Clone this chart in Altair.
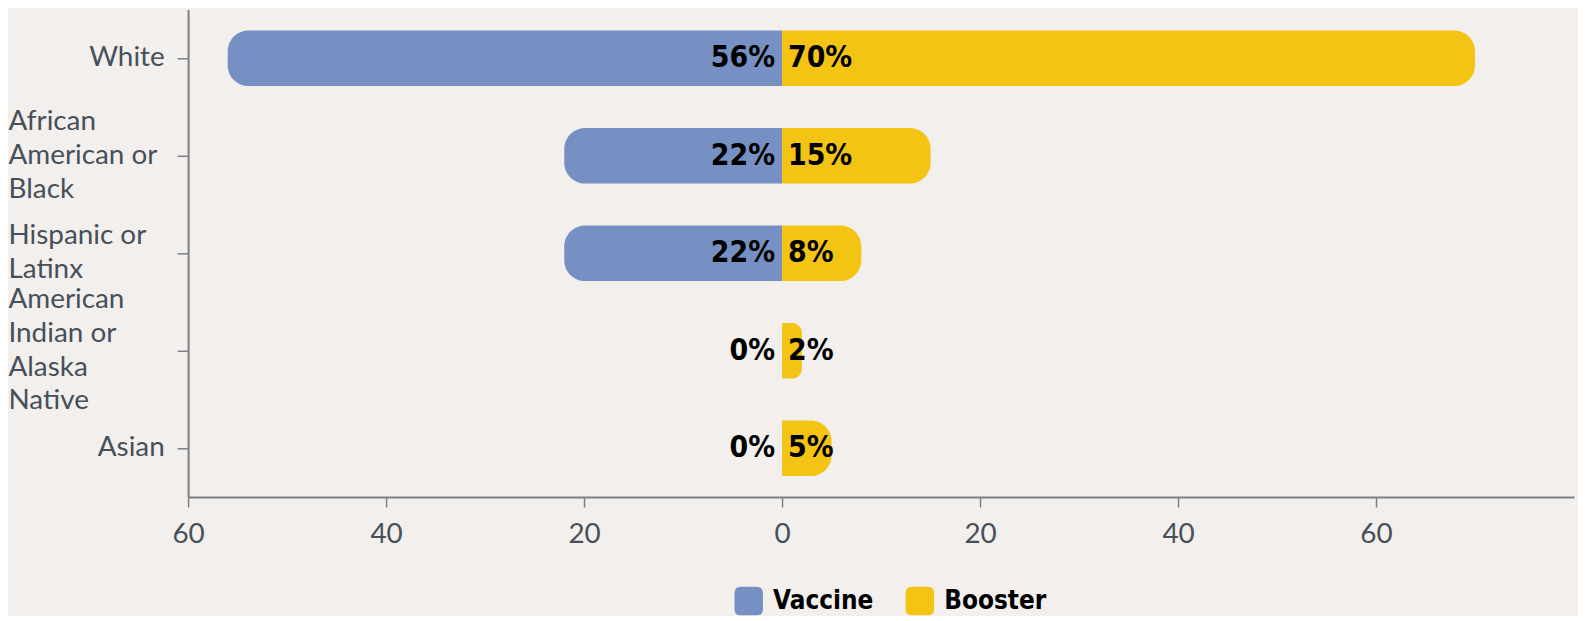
import altair as alt
import pandas as pd

# ---- data ----
categories = ["White", "African American or Black", "Hispanic or Latinx",
              "American Indian or Alaska Native", "Asian"]
wrapped = ["White", "African|American or|Black", "Hispanic or|Latinx",
           "American|Indian or|Alaska|Native", "Asian"]
vaccine = [56, 22, 22, 0, 0]
booster = [70, 15, 8, 2, 5]
series_names = ["Vaccine", "Booster"]
series_colors = ["#7690C4", "#F3C414"]
x_ticks = [-60, -40, -20, 0, 20, 40, 60]

rows = []
for c, w, v, b in zip(categories, wrapped, vaccine, booster):
    rows.append({"category": c, "label": w, "series": "Vaccine", "value": v, "signed": -v})
    rows.append({"category": c, "label": w, "series": "Booster", "value": b, "signed": b})
df = pd.DataFrame(rows)

BG = "#F2EFEC"
AXIS = "#7E8083"
LABEL = "#46505A"
NUMFONT = "DejaVu Sans Condensed, Liberation Sans Narrow, sans-serif"
LINE_H = 34

multi = "indexof(datum.value, '|') >= 0"
n_lines = "length(split(datum.value, '|'))"

y_enc = alt.Y(
    "label:N",
    sort=wrapped,
    scale=alt.Scale(paddingInner=0.43, paddingOuter=0.215),
    axis=alt.Axis(
        title=None,
        labelExpr="split(datum.label, '|')",
        labelAlign={"condition": {"test": multi, "value": "left"}, "value": "right"},
        labelPadding={"condition": {"test": multi, "value": 170}, "value": 13},
        labelOffset={"condition": [
            {"test": n_lines + " == 2", "value": -LINE_H / 2},
            {"test": n_lines + " == 3", "value": -LINE_H},
            {"test": n_lines + " == 4", "value": -1.5 * LINE_H},
        ], "value": 0},
        labelFont="Lato",
        labelFontSize=28,
        labelColor=LABEL,
        labelLineHeight=LINE_H,
        labelBaseline="middle",
        labelLimit=400,
        domainColor=AXIS,
        domainWidth=2,
        tickColor=AXIS,
        tickWidth=1.5,
        tickSize=11,
    ),
)

x_enc = alt.X(
    "signed:Q",
    scale=alt.Scale(domain=[-60, 80], nice=False, zero=False),
    axis=alt.Axis(
        title=None,
        values=x_ticks,
        labelExpr="abs(datum.value)",
        labelFont="Lato",
        labelFontSize=28,
        labelColor=LABEL,
        labelPadding=14,
        labelFlush=False,
        labelOverlap=False,
        domainColor=AXIS,
        domainWidth=2,
        tickColor=AXIS,
        tickWidth=1.5,
        tickSize=10,
        grid=False,
    ),
)

rounded_square = ("M-0.55,-1 H0.55 Q1,-1 1,-0.55 V0.55 Q1,1 0.55,1 H-0.55 "
                  "Q-1,1 -1,0.55 V-0.55 Q-1,-1 -0.55,-1 Z")

color_enc = alt.Color(
    "series:N",
    scale=alt.Scale(domain=series_names, range=series_colors),
    legend=alt.Legend(
        title=None,
        orient="none",
        direction="horizontal",
        legendX=549,
        legendY=580,
        symbolType=rounded_square,
        symbolSize=820,
        symbolStrokeWidth=0,
        symbolOpacity=1,
        labelFont=NUMFONT,
        labelFontWeight="bold",
        labelFontSize=26,
        labelColor="#000000",
        labelOffset=10,
        columnPadding=32,
        padding=0,
    ),
)

base = alt.Chart(df)
R = 21

vac_bar = base.transform_filter("datum.series == 'Vaccine'").mark_bar(
    cornerRadiusTopLeft=R, cornerRadiusBottomLeft=R
).encode(y=y_enc, x=x_enc, x2=alt.datum(0), color=color_enc)

boo_bar = base.transform_filter("datum.series == 'Booster'").mark_bar(
    cornerRadiusTopRight=R, cornerRadiusBottomRight=R
).encode(y=y_enc, x=x_enc, x2=alt.datum(0), color=color_enc)

vac_txt = base.transform_filter("datum.series == 'Vaccine'").transform_calculate(
    txt="datum.value + '%'"
).mark_text(
    align="right", baseline="middle", dx=-7, font=NUMFONT, fontWeight="bold",
    fontSize=30, color="#000000"
).encode(y=alt.Y("label:N", sort=wrapped), x=alt.datum(0), text="txt:N")

boo_txt = base.transform_filter("datum.series == 'Booster'").transform_calculate(
    txt="datum.value + '%'"
).mark_text(
    align="left", baseline="middle", dx=6, font=NUMFONT, fontWeight="bold",
    fontSize=30, color="#000000"
).encode(y=alt.Y("label:N", sort=wrapped), x=alt.datum(0), text="txt:N")

chart = alt.layer(vac_bar, boo_bar, vac_txt, boo_txt).properties(
    width=1393,
    height=490,
    background=BG,
    padding={"left": 181, "top": 0, "right": 4, "bottom": 118},
    autosize=alt.AutoSizeParams(type="none"),
).configure_view(stroke=None)

chart.save("out.html", embed_options={"renderer": "svg", "actions": False})
